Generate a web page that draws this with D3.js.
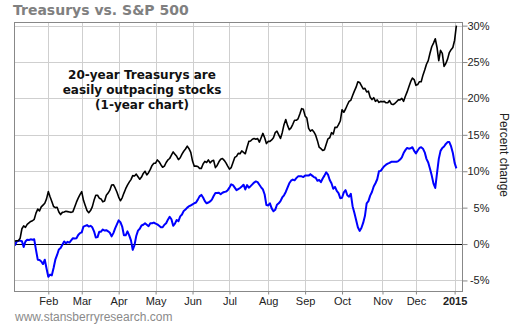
<!DOCTYPE html>
<html>
<head>
<meta charset="utf-8">
<script src="https://cdn.jsdelivr.net/npm/d3@7"></script>
<style>
    body { margin: 0; background: #fff; }
    svg { display: block; }
    .grille { stroke: #cfcfcf; stroke-width: 1; shape-rendering: crispEdges; }
    .tick text { font-family: "Liberation Sans", Arial, sans-serif; font-size: 11px; fill: #222; }
</style>
</head>
<body>
<div id="chart"></div>
<script>
// Séances de bourse : index 0 = 6 janvier 2014, dernier point = 5 janvier 2015
var months = ["Feb", "Mar", "Apr", "May", "Jun", "Jul", "Aug", "Sep", "Oct", "Nov", "Dec", "2015"];
var monthStart = [19, 38, 59, 80, 101, 122, 144, 165, 186, 209, 228, 250];
var pctTicks = [-5, 0, 5, 10, 15, 20, 25, 30];

// Variation en % depuis le début (une valeur par séance)
var treasurys = [
    0.4, 0.45, 0.45, 0.8, 2.1, 2.5, 2.3, 2.7, 2.9, 3.1,
    3.2, 3.4, 4.25, 4.8, 4.55, 5.1, 5.35, 5.6, 6.2, 7.2,
    6.5, 5.85, 5.15, 5.0, 5.05, 4.4, 4.05, 4.35, 4.4, 4.5,
    4.45, 4.4, 4.35, 4.45, 5.1, 5.75, 6.3, 6.8, 7.2, 6.0,
    5.3, 4.6, 4.3, 4.6, 5.1, 6.0, 6.7, 6.7, 6.3, 6.2,
    5.8, 5.9, 6.7, 7.0, 7.4, 8.1, 8.15, 7.7, 7.15, 6.45,
    5.95, 6.35, 7.0, 7.6, 8.1, 8.5, 8.85, 9.4, 9.35, 9.6,
    9.25, 8.9, 9.2, 9.7, 10.0, 9.5, 9.8, 10.25, 10.8, 11.1,
    11.1, 11.55, 11.3, 10.9, 10.55, 10.7, 11.2, 11.55, 11.75, 12.2,
    12.65, 12.35, 12.05, 11.6, 11.85, 12.35, 12.75, 13.05, 13.45, 13.1,
    12.6, 11.4, 10.7, 10.7, 10.65, 10.4, 10.4, 11.0, 11.35, 11.2,
    11.55, 11.15, 11.4, 11.5, 10.5, 10.8, 11.3, 11.65, 11.75, 11.5,
    11.15, 10.7, 10.3, 10.5, 11.2, 11.9, 12.05, 12.45, 12.4, 12.8,
    12.6, 12.4, 13.3, 14.1, 14.15, 14.4, 14.5, 14.4, 14.5, 14.0,
    14.6, 15.2, 14.6, 13.8, 14.1, 14.1, 14.3, 14.6, 15.3, 15.5,
    15.0, 14.5, 15.3, 16.4, 17.1, 16.3, 15.7, 15.95, 16.45, 17.0,
    17.0, 17.2, 17.85, 18.6, 18.5, 17.6, 17.3, 15.9, 15.5, 15.7,
    15.4, 14.95, 14.2, 13.3, 13.1, 12.85, 12.95, 13.7, 14.45, 14.6,
    15.3, 15.1, 16.05, 16.0, 16.4, 16.9, 18.45, 18.1, 18.55, 19.1,
    19.6, 19.75, 20.4, 21.0, 21.55, 22.3, 22.2, 21.75, 21.3, 21.4,
    20.9, 21.0, 20.15, 19.85, 20.1, 19.6, 19.8, 19.45, 19.6, 19.55,
    19.6, 19.4, 19.4, 19.7, 19.25, 19.15, 19.3, 19.55, 19.8, 19.8,
    20.0, 19.6, 20.3, 20.9, 21.6, 22.3, 22.8, 22.6, 21.8, 21.9,
    22.3, 22.3, 23.2, 23.9, 24.7, 25.2, 26.2, 27.1, 27.6, 28.2,
    27.0, 25.2, 26.6, 26.2, 24.4, 24.8, 25.4, 26.3, 26.7, 27.0,
    28.0, 30.0
];

var sp500 = [
    -0.2, 0.35, 0.45, 0.45, 0.4, -0.4, 0.35, 0.6, 0.55, 0.65,
    0.6, 0.65, -0.8, -2.15, -2.2, -2.4, -2.75, -2.15, -3.35, -4.5,
    -4.2, -4.3, -3.3, -2.15, -1.5, -0.75, -0.55, -0.1, 0.35, 0.1,
    0.3, 0.2, 0.5, 0.8, 0.75, 0.8, 1.25, 1.5, 1.6, 2.4,
    2.5, 2.6, 2.4, 2.5, 2.3, 1.75, 0.9, 0.95, 1.7, 1.7,
    2.0, 1.85, 1.9, 1.75, 1.55, 1.05, 1.5, 2.15, 2.7, 3.25,
    3.0, 2.4, 1.2, 1.2, 1.75, 1.2, 0.5, -0.8, -0.15, 1.1,
    1.85, 2.1, 2.55, 2.65, 2.85, 2.65, 2.45, 2.85, 2.85, 2.95,
    2.8, 2.7, 2.5, 2.3, 2.3, 2.65, 2.85, 3.35, 3.75, 3.4,
    2.5, 2.8, 3.3, 3.15, 3.8, 4.05, 4.55, 4.75, 5.0, 5.2,
    5.3, 5.45, 5.6, 5.7, 6.1, 6.55, 6.75, 6.4, 5.9, 5.6,
    5.7, 5.85, 6.1, 6.6, 7.0, 7.0, 7.05, 6.85, 7.05, 7.15,
    7.2, 7.4, 7.75, 8.2, 8.1, 7.75, 7.4, 7.55, 7.7, 7.9,
    8.15, 7.5, 8.1, 7.75, 7.95, 8.2, 8.45, 8.6, 8.5, 8.15,
    7.8, 7.5, 6.8, 5.35, 5.3, 5.6, 4.9, 4.5, 4.7, 5.4,
    5.6, 5.9, 6.4, 6.7, 7.15, 7.75, 8.35, 8.7, 8.85, 8.75,
    9.05, 9.3, 9.3, 9.3, 9.2, 9.4, 9.4, 9.4, 9.6, 9.4,
    9.2, 9.1, 8.7, 8.8, 8.5, 9.0, 9.4, 9.85, 9.55, 8.8,
    8.35, 7.6, 7.85, 7.3, 7.0, 6.3, 6.35, 7.1, 7.4, 6.7,
    6.5, 6.9, 5.2, 4.3, 3.3, 2.3, 1.8, 2.2, 2.9, 3.85,
    5.6, 5.9, 6.65, 7.15, 7.9, 8.35, 8.9, 10.0, 10.05, 10.4,
    10.7, 10.9, 11.05, 11.15, 11.3, 11.3, 11.3, 11.3, 11.4, 11.6,
    11.9, 12.5, 12.9, 13.2, 13.1, 13.15, 13.3, 12.8, 12.45, 12.85,
    13.2, 13.3, 13.1, 12.6, 11.7, 11.2, 10.35, 9.4, 8.3, 7.7,
    9.75, 11.7, 12.8, 13.2, 13.4, 13.75, 14.0, 14.0, 13.4, 12.5,
    11.15, 10.4
];

// Dimensions du cadre
var width = 510,
    height = 325,
    plot = { left: 14, right: 462, top: 22, bottom: 291 };

var svg = d3.select("#chart").append("svg")
    .attr("width", width)
    .attr("height", height);

var x = d3.scaleLinear()
    .domain([-0.5, 254.2])
    .range([plot.left, plot.right]);

var y = d3.scaleLinear()
    .domain([-6.45, 30.5])
    .range([plot.bottom, plot.top]);

// Titre
svg.append("text")
    .attr("x", 13)
    .attr("y", 15)
    .style("font-family", "'DejaVu Sans', Verdana, sans-serif")
    .style("font-weight", "bold")
    .style("font-size", "14px")
    .style("fill", "#808080")
    .text("Treasurys vs. S&P 500");

// Grille horizontale (sauf 0 qui est en noir)
svg.selectAll(".grilleH")
    .data(pctTicks.filter(function(d) { return d !== 0; }))
    .enter().append("line")
    .attr("class", "grille")
    .attr("x1", plot.left)
    .attr("x2", plot.right)
    .attr("y1", function(d) { return Math.round(y(d)) + 0.5; })
    .attr("y2", function(d) { return Math.round(y(d)) + 0.5; });

// Grille verticale (débuts de mois)
svg.selectAll(".grilleV")
    .data(monthStart)
    .enter().append("line")
    .attr("class", "grille")
    .attr("x1", function(d) { return Math.round(x(d)) + 0.5; })
    .attr("x2", function(d) { return Math.round(x(d)) + 0.5; })
    .attr("y1", plot.top)
    .attr("y2", plot.bottom);

// Ligne du zéro
svg.append("line")
    .attr("x1", plot.left)
    .attr("x2", plot.right)
    .attr("y1", Math.round(y(0)) + 0.5)
    .attr("y2", Math.round(y(0)) + 0.5)
    .style("stroke", "#000")
    .style("stroke-width", 1.2);

// Courbes
var ligne = d3.line()
    .x(function(d, i) { return x(i); })
    .y(function(d) { return y(d); });

svg.append("path")
    .datum(sp500)
    .attr("d", ligne)
    .style("fill", "none")
    .style("stroke", "#0000ff")
    .style("stroke-width", 2)
    .style("stroke-linejoin", "round");

svg.append("path")
    .datum(treasurys)
    .attr("d", ligne)
    .style("fill", "none")
    .style("stroke", "#000")
    .style("stroke-width", 1.6)
    .style("stroke-linejoin", "round");

// Cadre
svg.append("rect")
    .attr("x", plot.left + 0.5)
    .attr("y", plot.top + 0.5)
    .attr("width", plot.right - plot.left)
    .attr("height", plot.bottom - plot.top)
    .style("fill", "none")
    .style("stroke", "#888")
    .style("stroke-width", 1)
    .style("shape-rendering", "crispEdges");

// Axe de droite
var axeY = svg.append("g")
    .attr("transform", "translate(" + (plot.right + 0.5) + ",0)")
    .call(d3.axisRight(y)
        .tickValues(pctTicks)
        .tickSize(5)
        .tickFormat(function(d) { return d + "%"; }));
axeY.select(".domain").remove();
axeY.selectAll(".tick line").style("stroke", "#888");
axeY.selectAll(".tick text")
    .attr("x", 27)
    .style("text-anchor", "end");

// Axe du bas (mois)
var axeX = svg.append("g")
    .attr("transform", "translate(0," + (plot.bottom + 0.5) + ")")
    .call(d3.axisBottom(x)
        .tickValues(monthStart)
        .tickSize(3)
        .tickFormat(function(d, i) { return months[i]; }));
axeX.select(".domain").remove();
axeX.selectAll(".tick line").style("stroke", "#888");
axeX.selectAll(".tick text")
    .style("font-weight", function(d, i) { return months[i] === "2015" ? "bold" : "normal"; });

// Titre de l'axe
svg.append("text")
    .attr("transform", "translate(500,155) rotate(90)")
    .style("font-family", "'Liberation Sans', Arial, sans-serif")
    .style("font-size", "12px")
    .style("text-anchor", "middle")
    .style("fill", "#222")
    .text("Percent change");

// Annotation
var note = ["20-year Treasurys are", "easily outpacing stocks", "(1-year chart)"];
svg.selectAll(".note")
    .data(note)
    .enter().append("text")
    .attr("x", 142)
    .attr("y", function(d, i) { return 79 + i * 15; })
    .style("font-family", "'DejaVu Sans', Verdana, sans-serif")
    .style("font-weight", "bold")
    .style("font-size", "12px")
    .style("text-anchor", "middle")
    .style("fill", "#111")
    .text(function(d) { return d; });

// Source
svg.append("text")
    .attr("x", 15)
    .attr("y", 321)
    .style("font-family", "'Liberation Sans', Arial, sans-serif")
    .style("font-size", "12px")
    .style("fill", "#8a8a8a")
    .text("www.stansberryresearch.com");
</script>
</body>
</html>
